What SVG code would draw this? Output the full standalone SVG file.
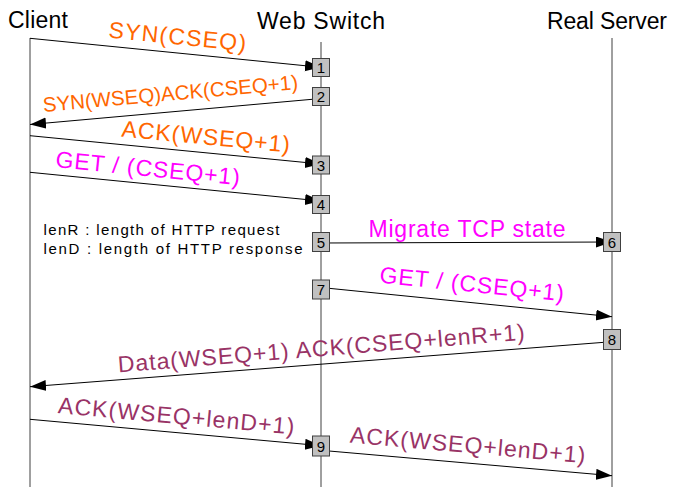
<svg xmlns="http://www.w3.org/2000/svg" width="675" height="491" viewBox="0 0 675 491">
<style>
.hdr{font-family:"Liberation Sans",Arial,sans-serif;font-size:23px;fill:#000}
.life{stroke:#404040;stroke-width:1;fill:none}
.msg{stroke:#000;stroke-width:1;fill:none;marker-end:url(#ah)}
.lbl{font-family:"Liberation Sans",Arial,sans-serif;font-size:23px}
.or{fill:#ff6600}.mg{fill:#ff00ff}.pu{fill:#993366}
.box rect{fill:#c0c0c0;stroke:#404040;stroke-width:1}
.box text{font-family:"Liberation Sans",Arial,sans-serif;font-size:15px;fill:#000;text-anchor:middle}
.note{font-family:"Liberation Sans",Arial,sans-serif;font-size:15px;fill:#000}
</style>
<defs>
<marker id="ah" markerUnits="userSpaceOnUse" markerWidth="17" markerHeight="12" refX="16" refY="5.5" orient="auto">
<path d="M0,0 L16,5.5 L0,11 Z" fill="#000"/>
</marker>
</defs>
<rect width="675" height="491" fill="#fff"/>

<g id="client">
<text class="hdr" x="8" y="28" textLength="60" lengthAdjust="spacing">Client</text>
<line class="life" x1="30" y1="38" x2="30" y2="487"/>
</g>
<g id="webswitch">
<text class="hdr" x="257" y="29" textLength="128" lengthAdjust="spacing">Web Switch</text>
<line class="life" x1="321" y1="42" x2="321" y2="487"/>
</g>
<g id="realserver">
<text class="hdr" x="547" y="29" textLength="120" lengthAdjust="spacing">Real Server</text>
<line class="life" x1="612" y1="38" x2="612" y2="487"/>
</g>

<g id="connectors">
<line class="msg" x1="30" y1="38.3" x2="321" y2="67.3"/>
<line class="msg" x1="321" y1="98.5" x2="30" y2="124.5"/>
<line class="msg" x1="30" y1="135.7" x2="321" y2="164"/>
<line class="msg" x1="30" y1="172.3" x2="321" y2="201"/>
<line class="msg" x1="321" y1="243" x2="612" y2="242"/>
<line class="msg" x1="321" y1="287.5" x2="612" y2="316.7"/>
<line class="msg" x1="612" y1="341.7" x2="30" y2="386.7"/>
<line class="msg" x1="30" y1="419.3" x2="321" y2="445.7"/>
<line class="msg" x1="321" y1="450.3" x2="612" y2="475.7"/>

<text class="lbl or" transform="translate(108,37.5) rotate(5.65)" textLength="138" lengthAdjust="spacing">SYN(CSEQ)</text>
<text class="lbl or" transform="translate(43.5,112) rotate(-5.15)" textLength="256" lengthAdjust="spacing" style="font-size:20.5px">SYN(WSEQ)ACK(CSEQ+1)</text>
<text class="lbl or" transform="translate(121,136.5) rotate(5.45)" textLength="169" lengthAdjust="spacing">ACK(WSEQ+1)</text>
<text class="lbl mg" transform="translate(55,167) rotate(5.65)" textLength="185" lengthAdjust="spacing">GET / (CSEQ+1)</text>
<text class="lbl mg" x="368.5" y="237.3" textLength="197" lengthAdjust="spacing">Migrate TCP state</text>
<text class="lbl mg" transform="translate(379,282.5) rotate(5.8)" textLength="185" lengthAdjust="spacing">GET / (CSEQ+1)</text>
<text class="lbl pu" transform="translate(118.5,372.5) rotate(-4.6)" textLength="408" lengthAdjust="spacing">Data(WSEQ+1) ACK(CSEQ+lenR+1)</text>
<text class="lbl pu" transform="translate(57.5,413) rotate(5.19)" textLength="237" lengthAdjust="spacing">ACK(WSEQ+lenD+1)</text>
<text class="lbl pu" transform="translate(349.5,442.5) rotate(5.0)" textLength="236" lengthAdjust="spacing">ACK(WSEQ+lenD+1)</text>
</g>

<g id="legend">
<text class="note" x="43.5" y="235" textLength="236" lengthAdjust="spacing">lenR : length of HTTP request</text>
<text class="note" x="43.5" y="253.5" textLength="259" lengthAdjust="spacing">lenD : length of HTTP response</text>
</g>

<g id="box1" class="box"><rect x="312.5" y="58.5" width="17" height="18"/><text x="321" y="73">1</text></g>
<g id="box2" class="box"><rect x="312.5" y="87.5" width="17" height="18"/><text x="321" y="102">2</text></g>
<g id="box3" class="box"><rect x="312.5" y="156" width="17" height="18"/><text x="321" y="170.5">3</text></g>
<g id="box4" class="box"><rect x="312.5" y="195.5" width="17" height="18"/><text x="321" y="210">4</text></g>
<g id="box5" class="box"><rect x="312.5" y="232.5" width="17" height="19"/><text x="321" y="247.5">5</text></g>
<g id="box6" class="box"><rect x="603.5" y="232.5" width="17" height="19"/><text x="612" y="247.5">6</text></g>
<g id="box7" class="box"><rect x="312.5" y="280" width="17" height="19"/><text x="321" y="295">7</text></g>
<g id="box8" class="box"><rect x="603.5" y="329.5" width="17" height="20"/><text x="612" y="345">8</text></g>
<g id="box9" class="box"><rect x="312.5" y="436" width="17" height="20"/><text x="321" y="451.5">9</text></g>
</svg>
